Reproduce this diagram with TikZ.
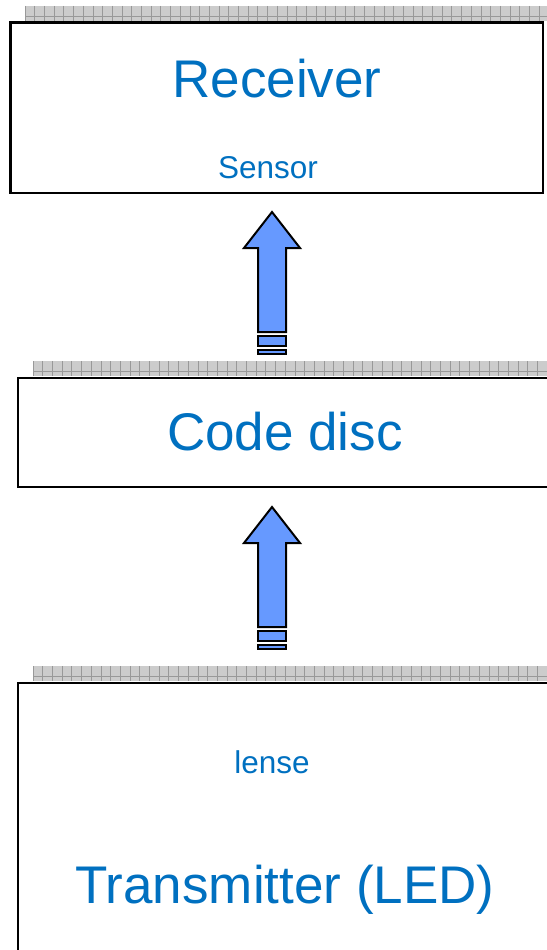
\documentclass[tikz,border=0pt]{standalone}
\usepackage{fontspec}
\setmainfont{Liberation Sans}
\usepackage{tikz}
\definecolor{txtblue}{RGB}{0,112,192}
\definecolor{beamblue}{RGB}{102,153,255}

\begin{document}
\begin{tikzpicture}[x=1pt,y=-1pt,
        box/.style={draw=black,line width=2.6pt},
        shelf/.style={fill=black!20,draw=none},
        shelfline/.style={draw=black!40,line width=0.8pt},
        bigtext/.style={text=txtblue,font=\fontsize{53}{60}\selectfont,inner sep=0pt,anchor=base},
        smalltext/.style={text=txtblue,font=\fontsize{31.5}{36}\selectfont,inner sep=0pt,anchor=base},
        beam/.style={fill=beamblue,draw=black,line width=2pt,line join=miter}]
    \useasboundingbox (0,0) rectangle (546,950);

    % gray shelves above the boxes
    \foreach \x/\y in {25/6,33/361,33/666}{
        \fill[shelf] (\x,\y) rectangle (550,\y+15);
        \foreach \g in {0,9.7,...,530}
            \draw[shelfline] (\x+\g,\y) -- (\x+\g,\y+15);
        \draw[shelfline] (\x,\y+10) -- (550,\y+10);
    }

    % boxes
    \draw[box] (10.3,22.5) rectangle (543,193);
    \draw[box] (18,378) rectangle (560,487);
    \draw[box] (18,683) rectangle (560,970);

    % block arrows
    \foreach \t in {212,507}{
        \draw[beam] (272,\t) -- (300,\t+36) -- (286,\t+36) -- (286,\t+120)
            -- (258,\t+120) -- (258,\t+36) -- (244,\t+36) -- cycle;
        \draw[beam] (258,\t+124) rectangle (286,\t+134);
        \draw[beam] (258,\t+138) rectangle (286,\t+142);
    }

    \node[bigtext] (recv) at (277,97) {Receiver};
    \node[smalltext] (sensor) at (268,178) {Sensor};
    \node[bigtext] (disc) at (285,450) {Code disc};
    \node[smalltext] (lense) at (272,773) {lense};
    \node[bigtext] (led) at (285,903) {Transmitter (LED)};
\end{tikzpicture}
\end{document}
